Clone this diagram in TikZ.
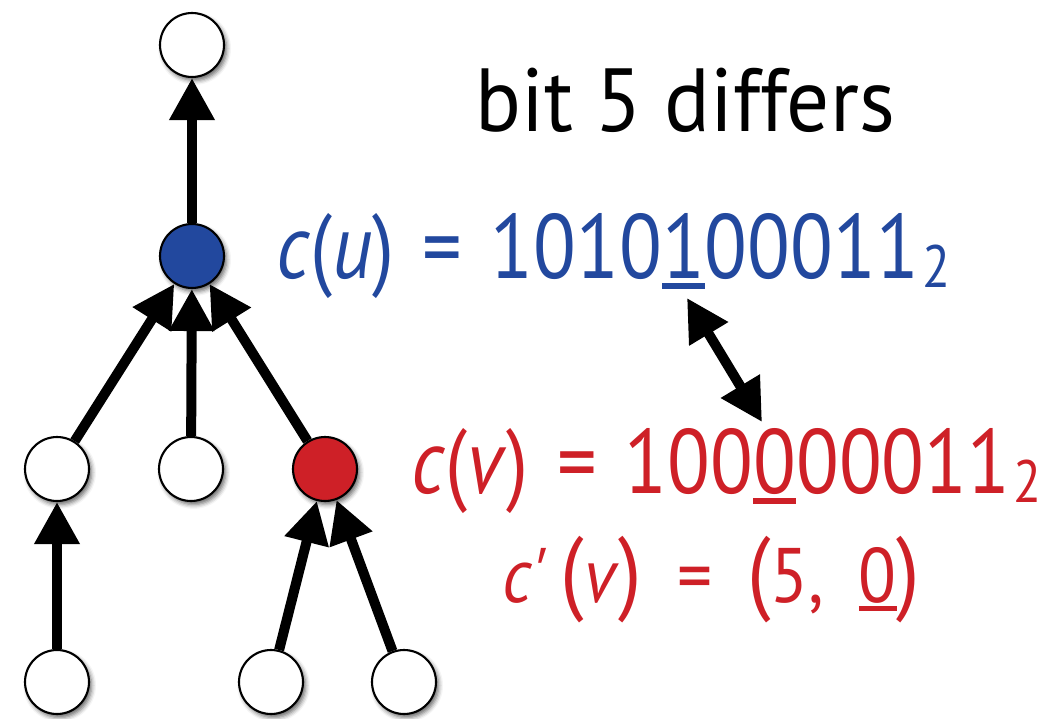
\documentclass[tikz,border=0pt]{standalone}
\usepackage{fontspec}
\setmainfont{PT Sans}
\usepackage{xcolor}
\usetikzlibrary{positioning,arrows.meta,shadows.blur}
\definecolor{ublue}{RGB}{34,72,158}
\definecolor{vred}{RGB}{206,32,39}
% underlined bit
\newsavebox{\bitbox}
\newcommand{\bitmark}[1]{\sbox{\bitbox}{#1}\rlap{\rule[-0.115em]{\wd\bitbox}{0.063em}}\usebox{\bitbox}}
% base subscript
\newcommand{\basetwo}{\kern0.04em\raisebox{-0.1em}{\fontsize{34}{36}\selectfont 2}}
% gaps and tall parentheses
\newcommand{\gap}{\hspace{0.36em}}
\newcommand{\widegap}{\hspace{0.5em}}
\newcommand{\tallpar}[1]{{\fontsize{53}{56}\selectfont #1}}

\begin{document}
\begin{tikzpicture}[
    x=0.02cm, y=-0.02cm,
    vertex/.style={circle, draw, line width=1.2pt, fill=white, minimum size=1.28cm, inner sep=0pt,
        blur shadow={shadow xshift=1.5pt, shadow yshift=-2pt, shadow blur radius=2.5pt, shadow opacity=60}},
    uvertex/.style={vertex, fill=ublue},
    vvertex/.style={vertex, fill=vred},
    link/.style={line width=0.2cm, -{Triangle[width=0.86cm, length=0.84cm]}},
    label/.style={anchor=base west, inner sep=0pt}
]
\useasboundingbox (0,0) rectangle (1060,719);

% tree
\node[vertex] (root) at (192,45) {};
\node[uvertex] (u) at (192,256) {};
\node[vertex] (a) at (57,469) {};
\node[vertex] (b) at (191,469) {};
\node[vvertex] (v) at (325,469) {};
\node[vertex] (d) at (57,682) {};
\node[vertex] (e) at (271,682) {};
\node[vertex] (f) at (404,682) {};

\draw[link] (u) -- (root);
\draw[link] (a) -- (u);
\draw[link] (b) -- (u);
\draw[link] (v) -- (u);
\draw[link] (d) -- (a);
\draw[link] (e) -- (v);
\draw[link] (f) -- (v);

% labels
\node[label, font=\fontsize{51}{56}\selectfont] (diff) at (475,132)
    {\scalebox{0.95}[1]{bit 5 differs}};
\node[label, text=ublue, font=\fontsize{52}{56}\selectfont] (cu) at (276,278)
    {\scalebox{0.86}[1]{\textit{c}(\textit{u})\gap=\gap1010\bitmark{1}00011\basetwo}};
\node[label, text=vred, font=\fontsize{52}{56}\selectfont] (cv) at (411,493)
    {\scalebox{0.86}[1]{\textit{c}(\textit{v})\gap=\gap100\bitmark{0}00011\basetwo}};
\node[label, text=vred, font=\fontsize{44}{48}\selectfont] (cpv) at (502,602)
    {\scalebox{0.9}[1]{\textit{c\textquotesingle}\hspace{0.2em}\tallpar{(}\textit{v}\tallpar{)}\widegap=\widegap\tallpar{(}5,\widegap\bitmark{0}\tallpar{)}}};

% differing bit
\coordinate (bitu) at (687,298);
\coordinate (bitv) at (762,422);
\draw[link, {Triangle[width=0.86cm, length=0.84cm]}-{Triangle[width=0.86cm, length=0.84cm]}] (bitu) -- (bitv);

\end{tikzpicture}
\end{document}
